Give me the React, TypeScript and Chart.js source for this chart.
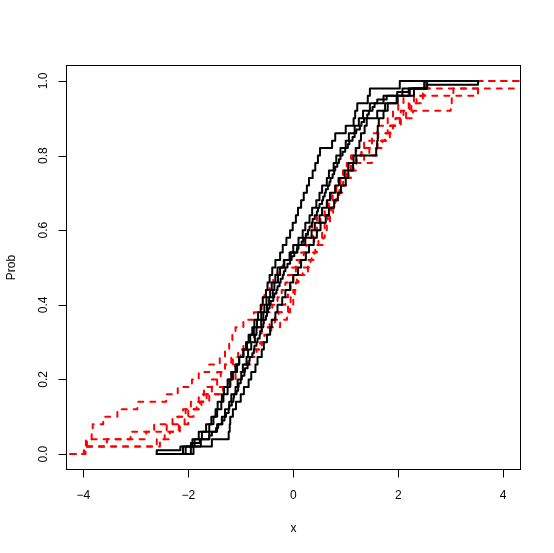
import React, { useEffect, useRef } from "react";
import { Chart, registerables } from "chart.js";

Chart.register(...registerables);

const xTicks = [-4, -2, 0, 2, 4];
const xTickLabels = ["\u22124", "\u22122", "0", "2", "4"];
const yTicks = [0, 0.2, 0.4, 0.6, 0.8, 1.0];
const yTickLabels = ["0.0", "0.2", "0.4", "0.6", "0.8", "1.0"];
const xTitle = "x";
const yTitle = "Prob";

// extent of the step functions (left/right flat parts)
const blackRange = [-2.6, 3.52];
const redRange = [-4.7, 4.7];

// sorted samples of the black (solid) ECDFs
const black1 = [-2.05, -1.88, -1.74, -1.6, -1.52, -1.45, -1.37, -1.33, -1.25, -1.2, -1.15, -1.07, -1.03, -0.95, -0.9, -0.85, -0.78, -0.74, -0.67, -0.62, -0.58, -0.52, -0.49, -0.45, -0.4, -0.34, -0.25, -0.2, -0.13, -0.06, -0.01, 0.05, 0.09, 0.15, 0.2, 0.26, 0.3, 0.37, 0.42, 0.47, 0.51, 0.74, 0.8, 1.0, 1.15, 1.18, 1.22, 1.42, 1.46, 2.03];
const black2 = [-1.95, -1.76, -1.6, -1.45, -1.36, -1.3, -1.22, -1.18, -1.1, -1.06, -0.99, -0.96, -0.89, -0.86, -0.8, -0.73, -0.7, -0.61, -0.57, -0.5, -0.46, -0.39, -0.36, -0.29, -0.25, -0.17, -0.07, 0.0, 0.1, 0.18, 0.23, 0.31, 0.36, 0.44, 0.5, 0.55, 0.64, 0.68, 0.77, 0.82, 0.9, 1.0, 1.06, 1.17, 1.25, 1.33, 1.46, 1.72, 2.08, 2.5];
const black3 = [
  -2.6, -2.15, -1.95, -1.78, -1.6, -1.55, -1.47, -1.43, -1.35, -1.31,
  -1.28, -1.23, -1.22, -1.17, -1.14, -1.13, -1.08, -1.05, -1.04, -1.0,
  -0.98, -0.93, -0.92, -0.87, -0.84, -0.83, -0.78, -0.75, -0.74, -0.7,
  -0.68, -0.64, -0.63, -0.6, -0.57, -0.56, -0.52, -0.5, -0.48, -0.45,
  -0.43, -0.38, -0.36, -0.32, -0.3, -0.26, -0.24, -0.2, -0.18, -0.15,
  -0.11, -0.06, -0.03, 0.02, 0.07, 0.1, 0.16, 0.19, 0.24, 0.28,
  0.31, 0.35, 0.37, 0.41, 0.45, 0.47, 0.5, 0.55, 0.57, 0.6,
  0.62, 0.66, 0.69, 0.71, 0.75, 0.78, 0.8, 0.84, 0.87, 0.9,
  0.94, 0.99, 1.04, 1.07, 1.13, 1.17, 1.2, 1.27, 1.3, 1.35,
  1.41, 1.44, 1.51, 1.55, 1.6, 1.78, 1.98, 2.2, 2.55, 3.52,
];
const black4 = [-2.1, -1.92, -1.8, -1.66, -1.56, -1.48, -1.44, -1.36, -1.32, -1.25, -1.18, -1.1, -1.03, -0.95, -0.88, -0.82, -0.75, -0.69, -0.61, -0.55, -0.51, -0.44, -0.41, -0.34, -0.3, -0.18, -0.05, 0.08, 0.23, 0.35, 0.41, 0.5, 0.55, 0.64, 0.7, 0.8, 0.87, 0.98, 1.05, 1.15, 1.19, 1.26, 1.29, 1.36, 1.4, 1.6, 1.75, 1.99, 2.22, 2.5];
const black5 = [-1.9, -1.55, -1.23, -1.21, -1.2, -1.15, -1.09, -1.0, -0.94, -0.85, -0.8, -0.72, -0.68, -0.6, -0.56, -0.5, -0.44, -0.41, -0.34, -0.3, -0.21, -0.15, -0.06, 0.0, 0.09, 0.15, 0.24, 0.3, 0.39, 0.45, 0.52, 0.62, 0.68, 0.78, 0.85, 0.91, 1.0, 1.05, 1.14, 1.2, 1.58, 1.6, 1.61, 1.61, 1.63, 1.72, 1.8, 1.97, 2.3, 2.55];

// sorted samples of the red (dashed) ECDFs
const red1 = [-3.98, -3.93, -3.84, -3.82, -3.62, -3.35, -2.97, -2.42, -2.2, -1.93, -1.8, -1.6, -1.4, -1.3, -1.22, -1.16, -1.1, -0.95, -0.75, -0.6, -0.58, -0.55, -0.45, -0.38, -0.3, -0.2, -0.05, 0.08, 0.2, 0.28, 0.36, 0.45, 0.55, 0.65, 0.72, 0.8, 0.86, 0.95, 1.05, 1.12, 1.3, 1.5, 1.62, 1.8, 1.95, 2.05, 2.2, 2.35, 2.47, 3.52];
const red2 = [-3.96, -2.54, -2.45, -2.16, -2.0, -1.9, -1.75, -1.65, -1.4, -1.24, -1.18, -1.11, -0.82, -0.7, -0.63, -0.55, -0.48, -0.25, -0.12, -0.06, 0.0, 0.03, 0.05, 0.07, 0.28, 0.33, 0.4, 0.45, 0.57, 0.6, 0.64, 0.7, 0.76, 0.8, 0.85, 0.88, 0.9, 1.02, 1.1, 1.21, 1.3, 1.6, 1.75, 1.84, 2.05, 2.28, 3.0, 3.02, 3.05, 4.6];
const red3 = [-3.97, -3.95, -3.1, -2.65, -2.3, -2.05, -1.95, -1.8, -1.7, -1.55, -1.45, -1.3, -1.15, -1.0, -0.88, -0.75, -0.6, -0.45, -0.35, -0.22, -0.15, -0.1, -0.05, 0.0, 0.05, 0.12, 0.2, 0.3, 0.4, 0.45, 0.5, 0.6, 0.67, 0.75, 0.82, 0.9, 0.95, 1.05, 1.15, 1.35, 1.45, 1.6, 1.75, 1.85, 1.95, 2.1, 2.25, 2.47, 3.52, 3.53];
const red4 = [-3.99, -3.55, -2.8, -2.41, -2.2, -2.1, -1.84, -1.6, -1.34, -1.2, -1.1, -0.95, -0.88, -0.75, -0.6, -0.5, -0.42, -0.35, -0.28, -0.1, -0.05, 0.0, 0.05, 0.1, 0.18, 0.28, 0.35, 0.42, 0.48, 0.55, 0.6, 0.66, 0.72, 0.8, 0.88, 0.93, 1.0, 1.1, 1.2, 1.5, 1.6, 1.7, 1.84, 1.9, 2.03, 2.15, 2.22, 2.3, 2.5, 2.6];
const red5 = [-3.96, -2.6, -2.35, -2.18, -2.07, -2.0, -1.78, -1.7, -1.55, -1.45, -1.38, -1.3, -1.18, -1.05, -0.95, -0.82, -0.7, -0.6, -0.5, -0.4, -0.3, -0.22, -0.15, -0.1, -0.02, 0.05, 0.15, 0.25, 0.32, 0.38, 0.45, 0.52, 0.6, 0.68, 0.75, 0.82, 0.88, 0.95, 1.02, 1.1, 1.2, 1.35, 1.5, 1.6, 1.8, 1.9, 2.0, 2.1, 2.2, 2.55];

const blackSamples = [black1, black2, black3, black4, black5];
const redSamples = [red1, red2, red3, red4, red5];

function ecdfPoints(samples: number[], range: number[]) {
  const n = samples.length;
  const pts = [{ x: range[0], y: 0 }];
  samples.forEach((v, i) => pts.push({ x: v, y: (i + 1) / n }));
  pts.push({ x: range[1], y: 1 });
  return pts;
}

const FONT = '12px "Liberation Sans", Arial, Helvetica, sans-serif';

const rAxesPlugin = {
  id: "rAxes",
  afterDraw(chart: any) {
    const { ctx, chartArea: a, scales } = chart;
    const xs = scales.x;
    const ys = scales.y;
    ctx.save();
    ctx.strokeStyle = "#000";
    ctx.lineWidth = 1;
    ctx.strokeRect(a.left - 0.5, a.top - 0.5, a.right - a.left + 1, a.bottom - a.top + 1);
    ctx.beginPath();
    xTicks.forEach((v) => {
      const px = Math.round(xs.getPixelForValue(v)) + 0.5;
      ctx.moveTo(px, a.bottom + 0.5);
      ctx.lineTo(px, a.bottom + 8.5);
    });
    yTicks.forEach((v) => {
      const py = Math.round(ys.getPixelForValue(v)) + 0.5;
      ctx.moveTo(a.left - 0.5, py);
      ctx.lineTo(a.left - 8.5, py);
    });
    ctx.stroke();

    ctx.fillStyle = "#000";
    ctx.font = FONT;
    ctx.textAlign = "center";
    ctx.textBaseline = "alphabetic";
    xTicks.forEach((v, i) => {
      ctx.fillText(xTickLabels[i], xs.getPixelForValue(v), a.bottom + 30);
    });
    ctx.fillText(xTitle, (a.left + a.right) / 2, a.bottom + 63);

    yTicks.forEach((v, i) => {
      ctx.save();
      ctx.translate(a.left - 20.5, ys.getPixelForValue(v));
      ctx.rotate(-Math.PI / 2);
      ctx.fillText(yTickLabels[i], 0, 0);
      ctx.restore();
    });
    ctx.save();
    ctx.translate(a.left - 52.5, (a.top + a.bottom) / 2);
    ctx.rotate(-Math.PI / 2);
    ctx.fillText(yTitle, 0, 0);
    ctx.restore();
    ctx.restore();
  },
};

export default function App() {
  const ref = useRef<HTMLCanvasElement>(null);
  useEffect(() => {
    const blackSets = blackSamples.map((s, i) => ({
      label: "black" + (i + 1),
      data: ecdfPoints(s, blackRange),
      borderColor: "#000000",
      borderWidth: 2,
      stepped: "before" as const,
      pointRadius: 0,
      fill: false,
      borderCapStyle: "round" as const,
      borderJoinStyle: "round" as const,
      clip: 0,
    }));
    const redSets = redSamples.map((s, i) => ({
      label: "red" + (i + 1),
      data: ecdfPoints(s, redRange),
      borderColor: "#ff0000",
      borderWidth: 2,
      borderDash: [5, 7],
      stepped: "before" as const,
      pointRadius: 0,
      fill: false,
      borderCapStyle: "round" as const,
      borderJoinStyle: "round" as const,
      clip: 0,
    }));
    const chart = new Chart(ref.current!, {
      type: "line",
      data: { datasets: [...blackSets, ...redSets] as any },
      options: {
        responsive: false,
        animation: false,
        devicePixelRatio: 1,
        layout: { padding: { left: 67, top: 66, right: 34, bottom: 84 } },
        plugins: { legend: { display: false }, tooltip: { enabled: false } },
        events: [],
        scales: {
          x: { type: "linear", min: -4.31, max: 4.32, display: false },
          y: { type: "linear", min: -0.04, max: 1.04, display: false },
        },
      },
      plugins: [rAxesPlugin],
    });
    return () => chart.destroy();
  }, []);
  return (
    <div style={{ position: "absolute", left: 0, top: 0, width: 554, height: 553, background: "#fff" }}>
      <canvas ref={ref} width={554} height={553} style={{ display: "block" }} />
    </div>
  );
}
